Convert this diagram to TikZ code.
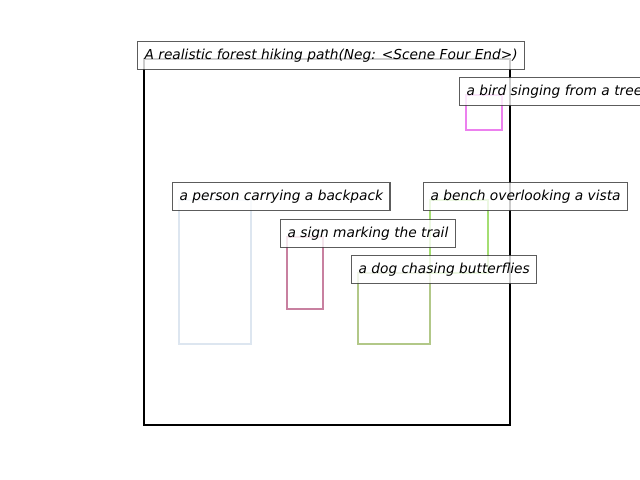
\documentclass[tikz,border=0pt]{standalone}
\usepackage{fontspec}
\setmainfont{DejaVu Sans}
\definecolor{BirdViolet}{RGB}{236,128,238}
\definecolor{PersonBlue}{RGB}{221,230,240}
\definecolor{SignMauve}{RGB}{200,128,160}
\definecolor{BenchGreen}{RGB}{164,222,114}
\definecolor{DogOlive}{RGB}{178,200,136}

\begin{document}
\begin{tikzpicture}[
        x=0.72pt, y=-0.72pt,
        region/.style={line width=1.7pt},
        caption/.style={rectangle, draw=black!75, fill=white, fill opacity=0.8, draw opacity=0.85, text opacity=1, line width=0.9pt, anchor=base west, xshift=-5pt, inner sep=5pt, text height=7.4pt, text depth=2.3pt, font=\fontsize{9.9}{12}\selectfont\itshape}
    ]
        \clip (0,0) rectangle (640,480);
        \fill[white] (0,0) rectangle (640,480);

        % Scene frame
        \draw[line width=1.8pt] (144,59) rectangle (510,425);

        % Regions
        \draw[region, BirdViolet] (466,95) rectangle (502,130);
        \draw[region, PersonBlue] (179,200) rectangle (251,344);
        \draw[region, SignMauve] (287,237) rectangle (323,309);
        \draw[region, BenchGreen] (430,200) rectangle (488,273);
        \draw[region, DogOlive] (358,273) rectangle (430,344);

        % Captions
        \node[caption] (scene) at (144,59) {A realistic forest hiking path(Neg: <Scene Four End>)};
        \node[caption] (bird) at (466,95) {a bird singing from a tree};
        \node[caption] (person) at (179,200) {a person carrying a backpack};
        \node[caption] (bench) at (430,200) {a bench overlooking a vista};
        \node[caption] (sign) at (287,237) {a sign marking the trail};
        \node[caption] (dog) at (358,273) {a dog chasing butterflies};
    \end{tikzpicture}
\end{document}
